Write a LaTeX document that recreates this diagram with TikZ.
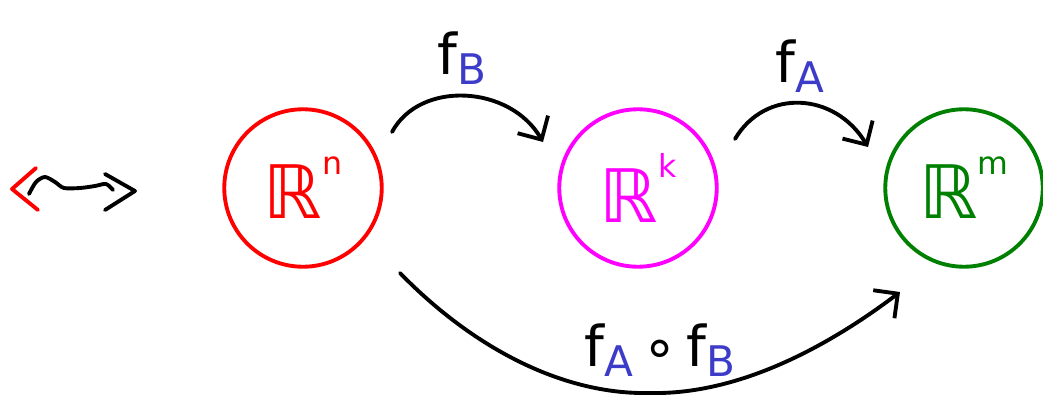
\documentclass[tikz,border=0pt]{standalone}
\usepackage{fontspec}
\setmainfont{DejaVu Sans}
\usetikzlibrary{arrows.meta}
\definecolor{myblue}{RGB}{60,60,200}
\definecolor{mygreen}{RGB}{0,128,0}
\definecolor{mymagenta}{RGB}{255,0,255}
\definecolor{myred}{RGB}{255,0,0}
\tikzset{
  ring/.style={circle, draw, line width=2.2pt, minimum size=3.15cm, inner sep=0pt, font=\fontsize{42}{42}\selectfont},
  conn/.style={line width=2.2pt, line cap=round, -{Straight Barb[length=10pt,width=20pt,line width=2.2pt]}},
  lab/.style={font=\fontsize{32}{32}\selectfont},
  sq/.style={line width=2.2pt, line cap=round, line join=round},
}
\begin{document}
\begin{tikzpicture}[x=0.02cm,y=-0.02cm]
\useasboundingbox (0,0) rectangle (1043,395);
% circles
\node[ring, myred] (rn) at (303,188) {ℝ\raisebox{0.6em}{\fontsize{18}{18}\selectfont n}};
\node[ring, mymagenta] (rk) at (638,188) {ℝ\raisebox{0.6em}{\fontsize{18}{18}\selectfont k}};
\node[ring, mygreen] (rm) at (964,188) {ℝ\raisebox{0.6em}{\fontsize{18}{18}\selectfont m}};
% connector end points
\coordinate (a1s) at (392,132);
\coordinate (a1e) at (543,142);
\coordinate (a2s) at (735,139);
\coordinate (a2e) at (868,147);
\coordinate (a3s) at (400,273);
\coordinate (a3m) at (650,393);
\coordinate (a3e) at (900,292);
\draw[conn] (a1s) .. controls (420,80) and (510,85) .. (a1e);
\draw[conn] (a2s) .. controls (765,88) and (835,92) .. (a2e);
\draw[conn] (a3s) .. controls (470,345) and (560,395) .. (a3m) .. controls (740,395) and (830,345) .. (a3e);
% labels
\node[lab] (lb) at (462,58) {f\textcolor{myblue}{\fontsize{24}{24}\selectfont\raisebox{-0.25em}{B}}};
\node[lab] (la) at (800,66) {f\textcolor{myblue}{\fontsize{24}{24}\selectfont\raisebox{-0.25em}{A}}};
\node[lab] (lab) at (660,350) {f\textcolor{myblue}{\fontsize{24}{24}\selectfont\raisebox{-0.25em}{A}}\,∘\,f\textcolor{myblue}{\fontsize{24}{24}\selectfont\raisebox{-0.25em}{B}}};
% squiggle
\draw[sq, myred] (36,168) -- (12,189) -- (38,210);
\draw[sq] plot[smooth] coordinates {(29,194) (36,182) (45,177) (55,182) (64,188) (80,188) (95,186) (106,184) (113,190)};
\draw[sq] (105,174) -- (135,191) -- (105,210);
\end{tikzpicture}
\end{document}
